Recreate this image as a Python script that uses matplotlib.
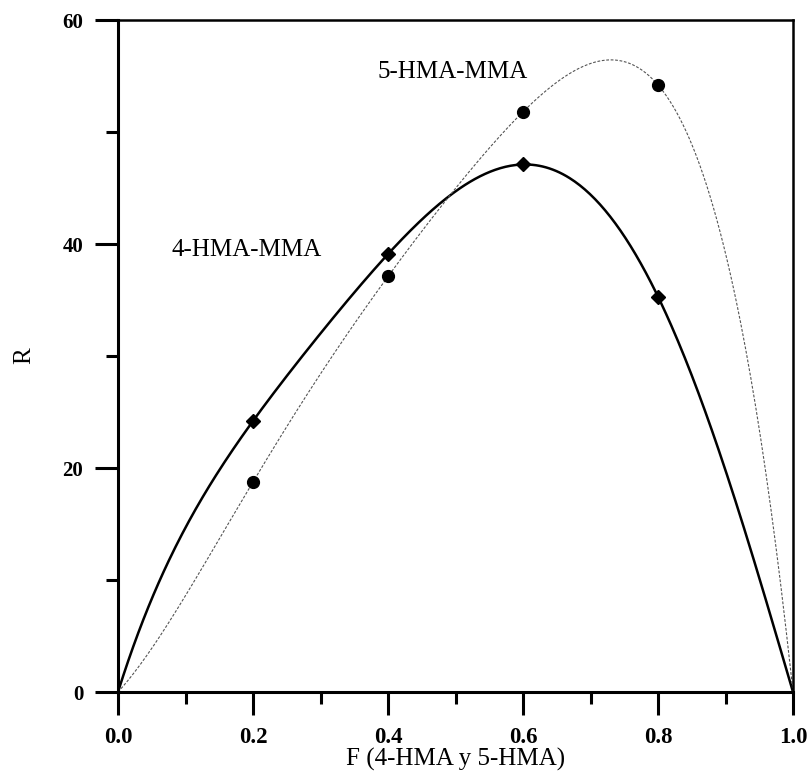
import numpy as np
import matplotlib
matplotlib.use("Agg")
import matplotlib.pyplot as plt
from matplotlib.ticker import MultipleLocator

plt.rcParams["font.family"] = ["Liberation Serif", "DejaVu Serif"]

# Composition (mole fraction) and measured values
F = [0.0, 0.2, 0.4, 0.6, 0.8, 1.0]
R_4hma = [0.0, 24.2, 39.1, 47.1, 35.3, 0.0]
R_5hma = [0.0, 18.75, 37.1, 51.8, 54.2, 0.0]

label_4 = "4-HMA-MMA"
label_5 = "5-HMA-MMA"
x_label = "F (4-HMA y 5-HMA)"
y_label = "R"

fig = plt.figure(figsize=(8.07, 7.75), dpi=100)
ax = fig.add_axes([118 / 807, 83 / 775, 675 / 807, 672 / 775])

# Smooth polynomial curves through the measured points
xs = np.linspace(0, 1, 400)
c4 = np.polyfit(F, R_4hma, 5)
c5 = np.polyfit(F, R_5hma, 5)
ax.plot(xs, np.polyval(c4, xs), color="black", lw=1.8, zorder=2)
ax.plot(xs, np.polyval(c5, xs), color="#555555", lw=0.8,
        dashes=(2.5, 1.5), zorder=2)

# Measured points (end points are the fixed zero values, not markers)
ax.plot(F[1:-1], R_4hma[1:-1], "D", color="black", ms=7.5, zorder=3)
ax.plot(F[1:-1], R_5hma[1:-1], "o", color="black", ms=8.5, zorder=3)

ax.text(0.495, 55.4, label_5, fontsize=18, ha="center", va="center")
ax.text(0.191, 39.5, label_4, fontsize=18, ha="center", va="center")

ax.set_xlim(0, 1)
ax.set_ylim(0, 60)
ax.xaxis.set_major_locator(MultipleLocator(0.2))
ax.xaxis.set_minor_locator(MultipleLocator(0.1))
ax.yaxis.set_major_locator(MultipleLocator(20))
ax.yaxis.set_minor_locator(MultipleLocator(10))
ax.xaxis.set_major_formatter(plt.FormatStrFormatter("%.1f"))
ax.yaxis.set_major_formatter(plt.FormatStrFormatter("%d"))

for side in ["left", "bottom"]:
    ax.spines[side].set_linewidth(2.2)
for side in ["top", "right"]:
    ax.spines[side].set_linewidth(1.8)

ax.tick_params(which="major", direction="out", length=16.5, width=2.2)
ax.tick_params(which="minor", direction="out", length=8.5, width=2.2)
ax.tick_params(axis="x", which="major", labelsize=16.5, pad=8.5)
ax.tick_params(axis="y", which="major", labelsize=15, pad=8.5)
for lab in ax.get_xticklabels() + ax.get_yticklabels():
    lab.set_fontweight("bold")

ax.set_xlabel(x_label, fontsize=18)
ax.set_ylabel(y_label, fontsize=18)
ax.xaxis.set_label_coords(0.5, -0.083)
ax.yaxis.set_label_coords(-0.123, 0.5)

fig.savefig("out.png", dpi=100)
